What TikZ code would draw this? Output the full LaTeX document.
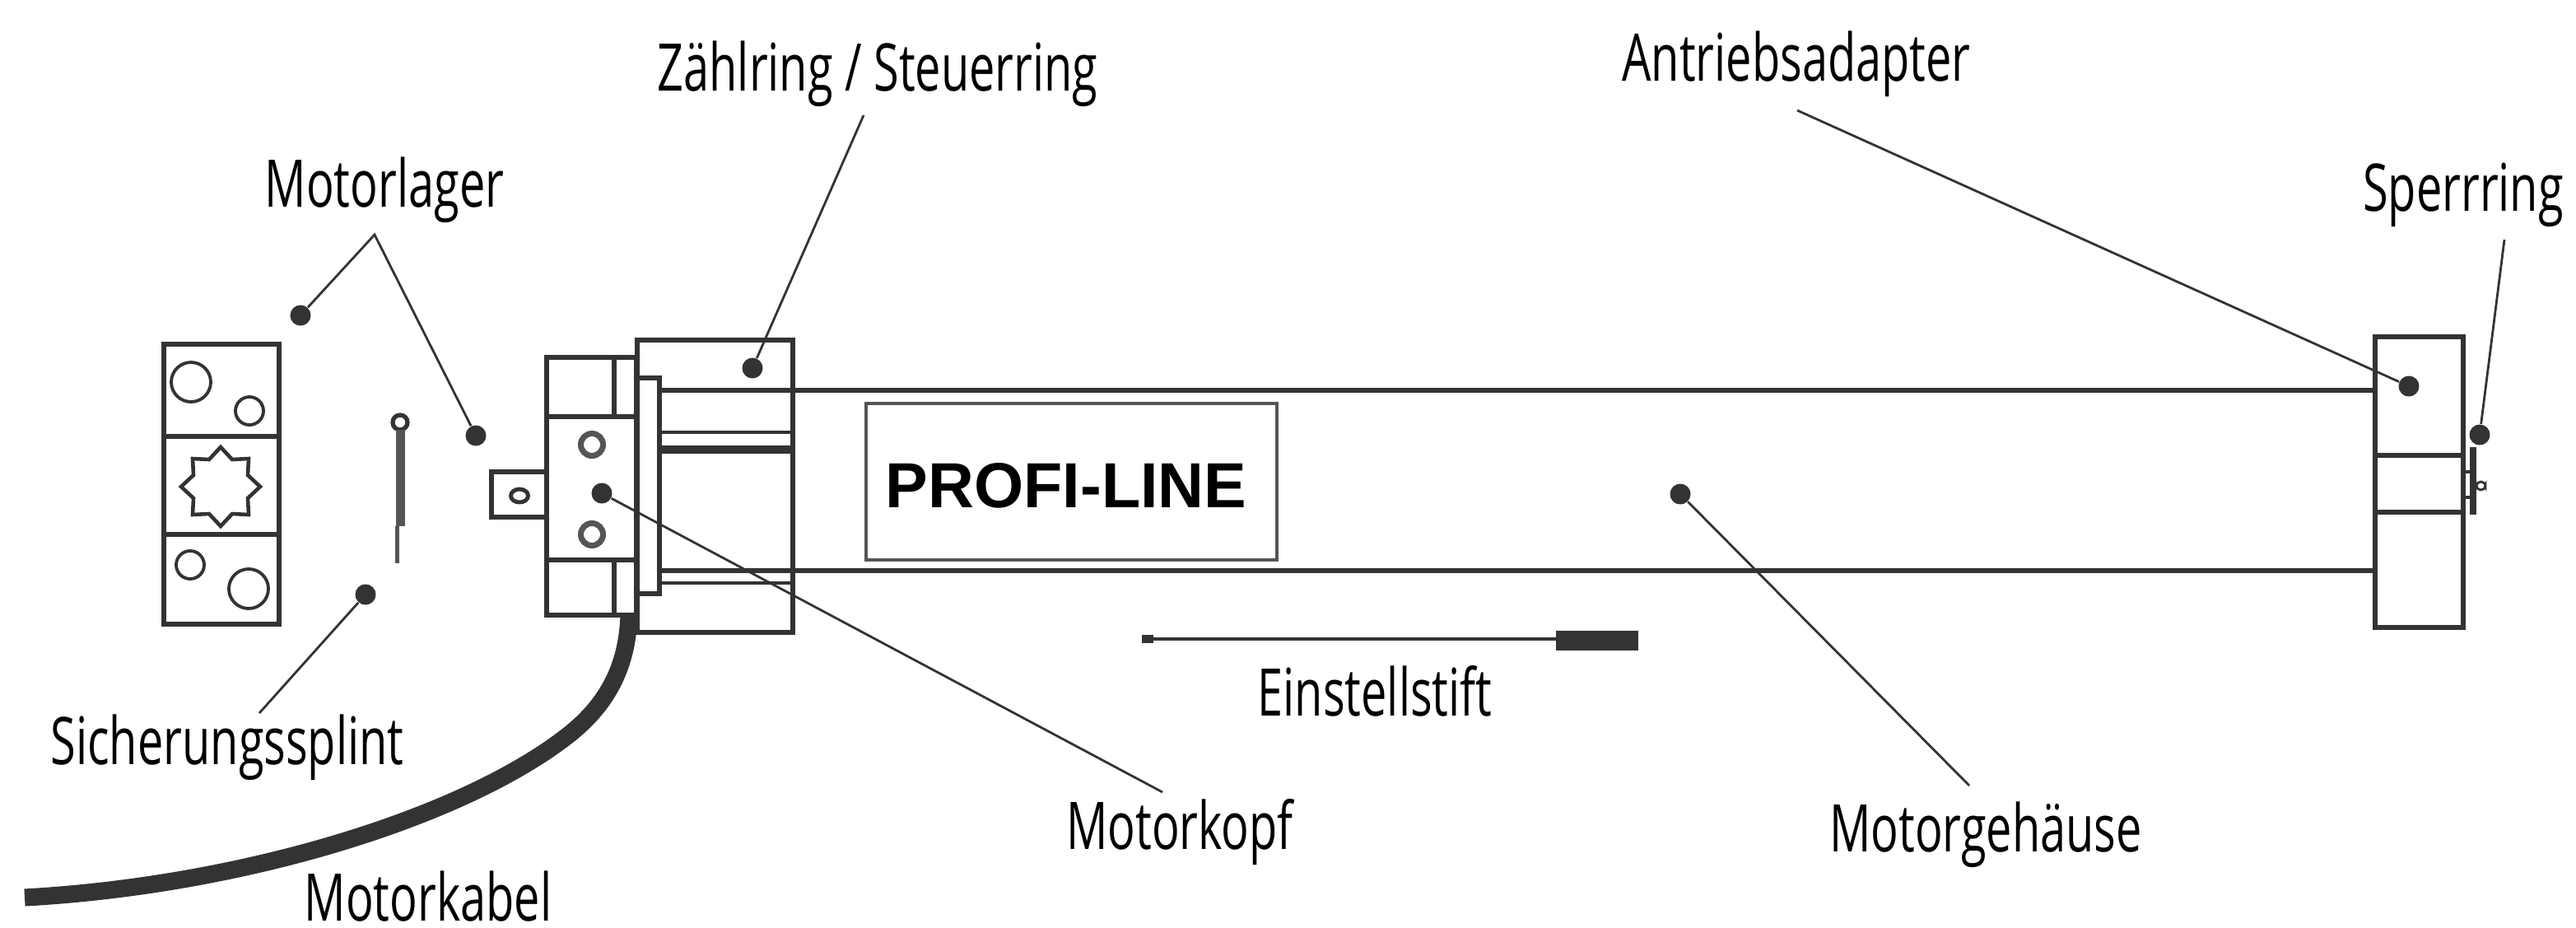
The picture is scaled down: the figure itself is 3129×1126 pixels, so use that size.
\documentclass[tikz,border=0pt]{standalone}
\usepackage{fontspec}
\setmainfont{Open Sans}[FakeStretch=0.7]
\newfontfamily\boldfont{Liberation Sans}

\definecolor{ink}{HTML}{333333}
\definecolor{inkgray}{HTML}{555555}

\begin{document}
\begin{tikzpicture}[x=0.01cm, y=-0.01cm,
    part/.style={draw=ink, line width=1.65pt},
    thinpart/.style={draw=ink, line width=1.1pt},
    leader/.style={draw=ink, line width=0.8pt},
    dot/.style={circle, fill=ink, inner sep=0pt, minimum size=0.25cm},
    caption/.style={inner sep=0pt, anchor=base, text=black, font=\fontsize{22.7}{27}\selectfont}]
    \useasboundingbox (0,0) rectangle (3129,1126);

    % motor bearing
    \draw[part] (199,418) rectangle (339,758);
    \draw[part] (199,530) -- (339,530);
    \draw[part] (199,649) -- (339,649);
    \draw[thinpart] (232,464) circle (24);
    \draw[thinpart] (303,499) circle (17);
    \draw[thinpart] (231,686) circle (17);
    \draw[thinpart] (302,715) circle (24);
    \draw[part, line width=1.3pt] (316,591) -- (301,577) -- (302,557) -- (282,558) -- (268,543) -- (254,558) -- (234,557) -- (235,577) -- (220,591) -- (235,605) -- (234,625) -- (254,624) -- (268,639) -- (282,624) -- (302,625) -- (301,605) -- cycle;

    % cotter pin
    \draw[thinpart, line width=1.5pt] (486,513) circle (9);
    \fill[inkgray] (481,522) rectangle (492,639);
    \fill[inkgray] (480,639) rectangle (485,684);

    % motor head
    \draw[part] (597,573) rectangle (664,628);
    \draw[thinpart, line width=1.4pt] (631,602) ellipse (10.5 and 8);
    \draw[part] (664,434) rectangle (773,747);
    \draw[part] (664,506) -- (773,506);
    \draw[part] (664,680) -- (773,680);
    \draw[part] (746,434) -- (746,506);
    \draw[part] (746,680) -- (746,747);
    \draw[inkgray, line width=2pt] (719,540) circle (13.5);
    \draw[inkgray, line width=2pt] (719,649) circle (13.5);

    % cable
    \draw[ink, line width=6pt] (764,748) .. controls (762,800) and (745,850) .. (690,893) .. controls (565,991) and (300,1075) .. (30,1090);

    % counting ring and housing
    \draw[part] (774,413) rectangle (963,768);
    \draw[part] (774,459) rectangle (801,721);
    \draw[part] (801,474) -- (2885,474);
    \draw[part] (801,693) -- (2885,693);
    \draw[thinpart] (801,525) -- (963,525);
    \draw[ink, line width=2.9pt] (801,546) -- (963,546);
    \draw[thinpart] (801,708) -- (963,708);

    % drive adapter and locking ring
    \draw[part] (2885,409) rectangle (2992,762);
    \draw[part] (2885,553) -- (2992,553);
    \draw[part] (2885,622) -- (2992,622);
    \fill[ink] (3000,543) rectangle (3008,625);
    \draw[thinpart] (2992,573) -- (3000,573);
    \draw[thinpart] (2992,604) -- (3000,604);
    \draw[thinpart, line width=0.8pt, rounded corners=1.5pt] (3008,585) rectangle (3019,595);

    % label box
    \draw[inkgray, line width=1.15pt] (1052,490) rectangle (1551,680);
    \node[inner sep=0pt] (profiline) at (1295,590) {\fontsize{22}{26}\boldfont\bfseries PROFI-LINE};

    % setting pin
    \draw[ink, line width=1pt] (1390,776) -- (1890,776);
    \fill[ink] (1387,771) rectangle (1401,781);
    \fill[ink] (1890,766) rectangle (1990,790);

    % callouts
    \node[caption] (zaehlring) at (1066,110) {Zählring / Steuerring};
    \node[caption] (adapter) at (2182,98) {Antriebsadapter};
    \node[caption] (sperrring) at (2992,256) {Sperrring};
    \node[caption] (motorlager) at (467,251) {Motorlager};
    \node[caption] (splint) at (276,928) {Sicherungssplint};
    \node[caption] (kabel) at (520,1118) {Motorkabel};
    \node[caption] (kopf) at (1433,1031) {Motorkopf};
    \node[caption] (gehaeuse) at (2412,1034) {Motorgehäuse};
    \node[caption] (einstell) at (1670,869) {Einstellstift};

    \node[dot] (lagerdot) at (365,383) {};
    \node[dot] (kopflagerdot) at (578,529) {};
    \node[dot] (splintdot) at (444,722) {};
    \node[dot] (ringdot) at (914,447) {};
    \node[dot] (kopfdot) at (731,599) {};
    \node[dot] (gehaeusedot) at (2041,600) {};
    \node[dot] (adapterdot) at (2926,469) {};
    \node[dot] (sperrdot) at (3012,528) {};

    \coordinate (lagerend) at (455,285);
    \coordinate (splintend) at (315,866);
    \coordinate (ringend) at (1049,140);
    \coordinate (kopfend) at (1412,962);
    \coordinate (gehaeuseend) at (2392,954);
    \coordinate (adapterend) at (2183,134);
    \coordinate (sperrend) at (3042,291);

    \draw[leader] (lagerdot) -- (lagerend) -- (kopflagerdot);
    \draw[leader] (splintdot) -- (splintend);
    \draw[leader] (ringdot) -- (ringend);
    \draw[leader] (kopfdot) -- (kopfend);
    \draw[leader] (gehaeusedot) -- (gehaeuseend);
    \draw[leader] (adapterdot) -- (adapterend);
    \draw[leader] (sperrdot) -- (sperrend);
\end{tikzpicture}
\end{document}
